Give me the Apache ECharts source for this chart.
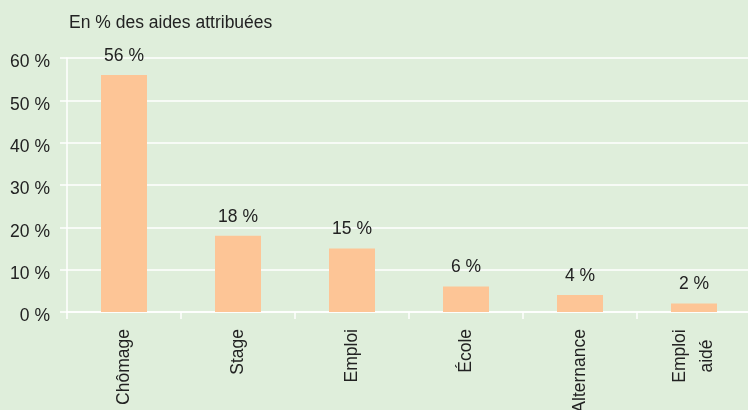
<!DOCTYPE html>
<html><head><meta charset="utf-8">
<script src="https://cdn.jsdelivr.net/npm/echarts@6/dist/echarts.min.js"></script>
<style>html,body{margin:0;padding:0;background:#dfeedb;}#c{width:748px;height:410px;}</style>
</head><body><div id="c"></div>
<script>
var categories = ['Chômage', 'Stage', 'Emploi', 'École', 'Alternance', 'Emploi\naidé'];
var values = [56, 18, 15, 6, 4, 2];
var yTicks = [0, 10, 20, 30, 40, 50, 60];
var FONT = '"Liberation Sans", Arial, sans-serif';
var FS = 17.5;
var chart = echarts.init(document.getElementById('c'), null, {renderer: 'canvas'});
chart.setOption({
  backgroundColor: '#dfeedb',
  animation: false,
  title: {
    text: 'En % des aides attribuées',
    left: 64, top: 9,
    textStyle: {fontFamily: FONT, fontSize: FS, fontWeight: 'normal', color: '#222'}
  },
  grid: {left: 67, top: 58, width: 684, height: 254, containLabel: false, outerBoundsMode: 'none'},
  xAxis: {
    type: 'category',
    data: categories,
    axisLine: {lineStyle: {color: '#ffffff', width: 1.5}},
    axisTick: {show: true, length: 7, lineStyle: {color: '#ffffff', width: 1.5}},
    axisLabel: {
      rotate: 90, margin: 17, interval: 0,
      fontFamily: FONT, fontSize: FS, color: '#222',
      formatter: function (v) {
        var lines = v.split('\n');
        if (lines.length > 1) return lines.map(function (l) { return '{c|' + l + '}'; }).join('\n');
        return v;
      },
      rich: {c: {width: 54, align: 'center', fontFamily: FONT, fontSize: FS, color: '#222', lineHeight: 27}}
    }
  },
  yAxis: {
    type: 'value', min: 0, max: 60, interval: 10,
    axisLine: {show: true, lineStyle: {color: '#ffffff', width: 1.5}},
    axisTick: {show: true, length: 7, lineStyle: {color: '#ffffff', width: 1.5}},
    splitLine: {lineStyle: {color: '#ffffff', width: 1.5}},
    axisLabel: {
      margin: 17, fontFamily: FONT, fontSize: FS, color: '#222',
      verticalAlign: 'top', lineHeight: 9,
      formatter: function (v) { return yTicks.indexOf(v) >= 0 ? v + ' %' : ''; }
    }
  },
  series: [{
    type: 'bar',
    data: values,
    barWidth: 46,
    itemStyle: {color: '#fdc596'},
    label: {
      show: true, position: 'top', distance: 10,
      fontFamily: FONT, fontSize: FS, color: '#222',
      formatter: function (p) { return p.value + ' %'; }
    }
  }]
});
</script></body></html>
